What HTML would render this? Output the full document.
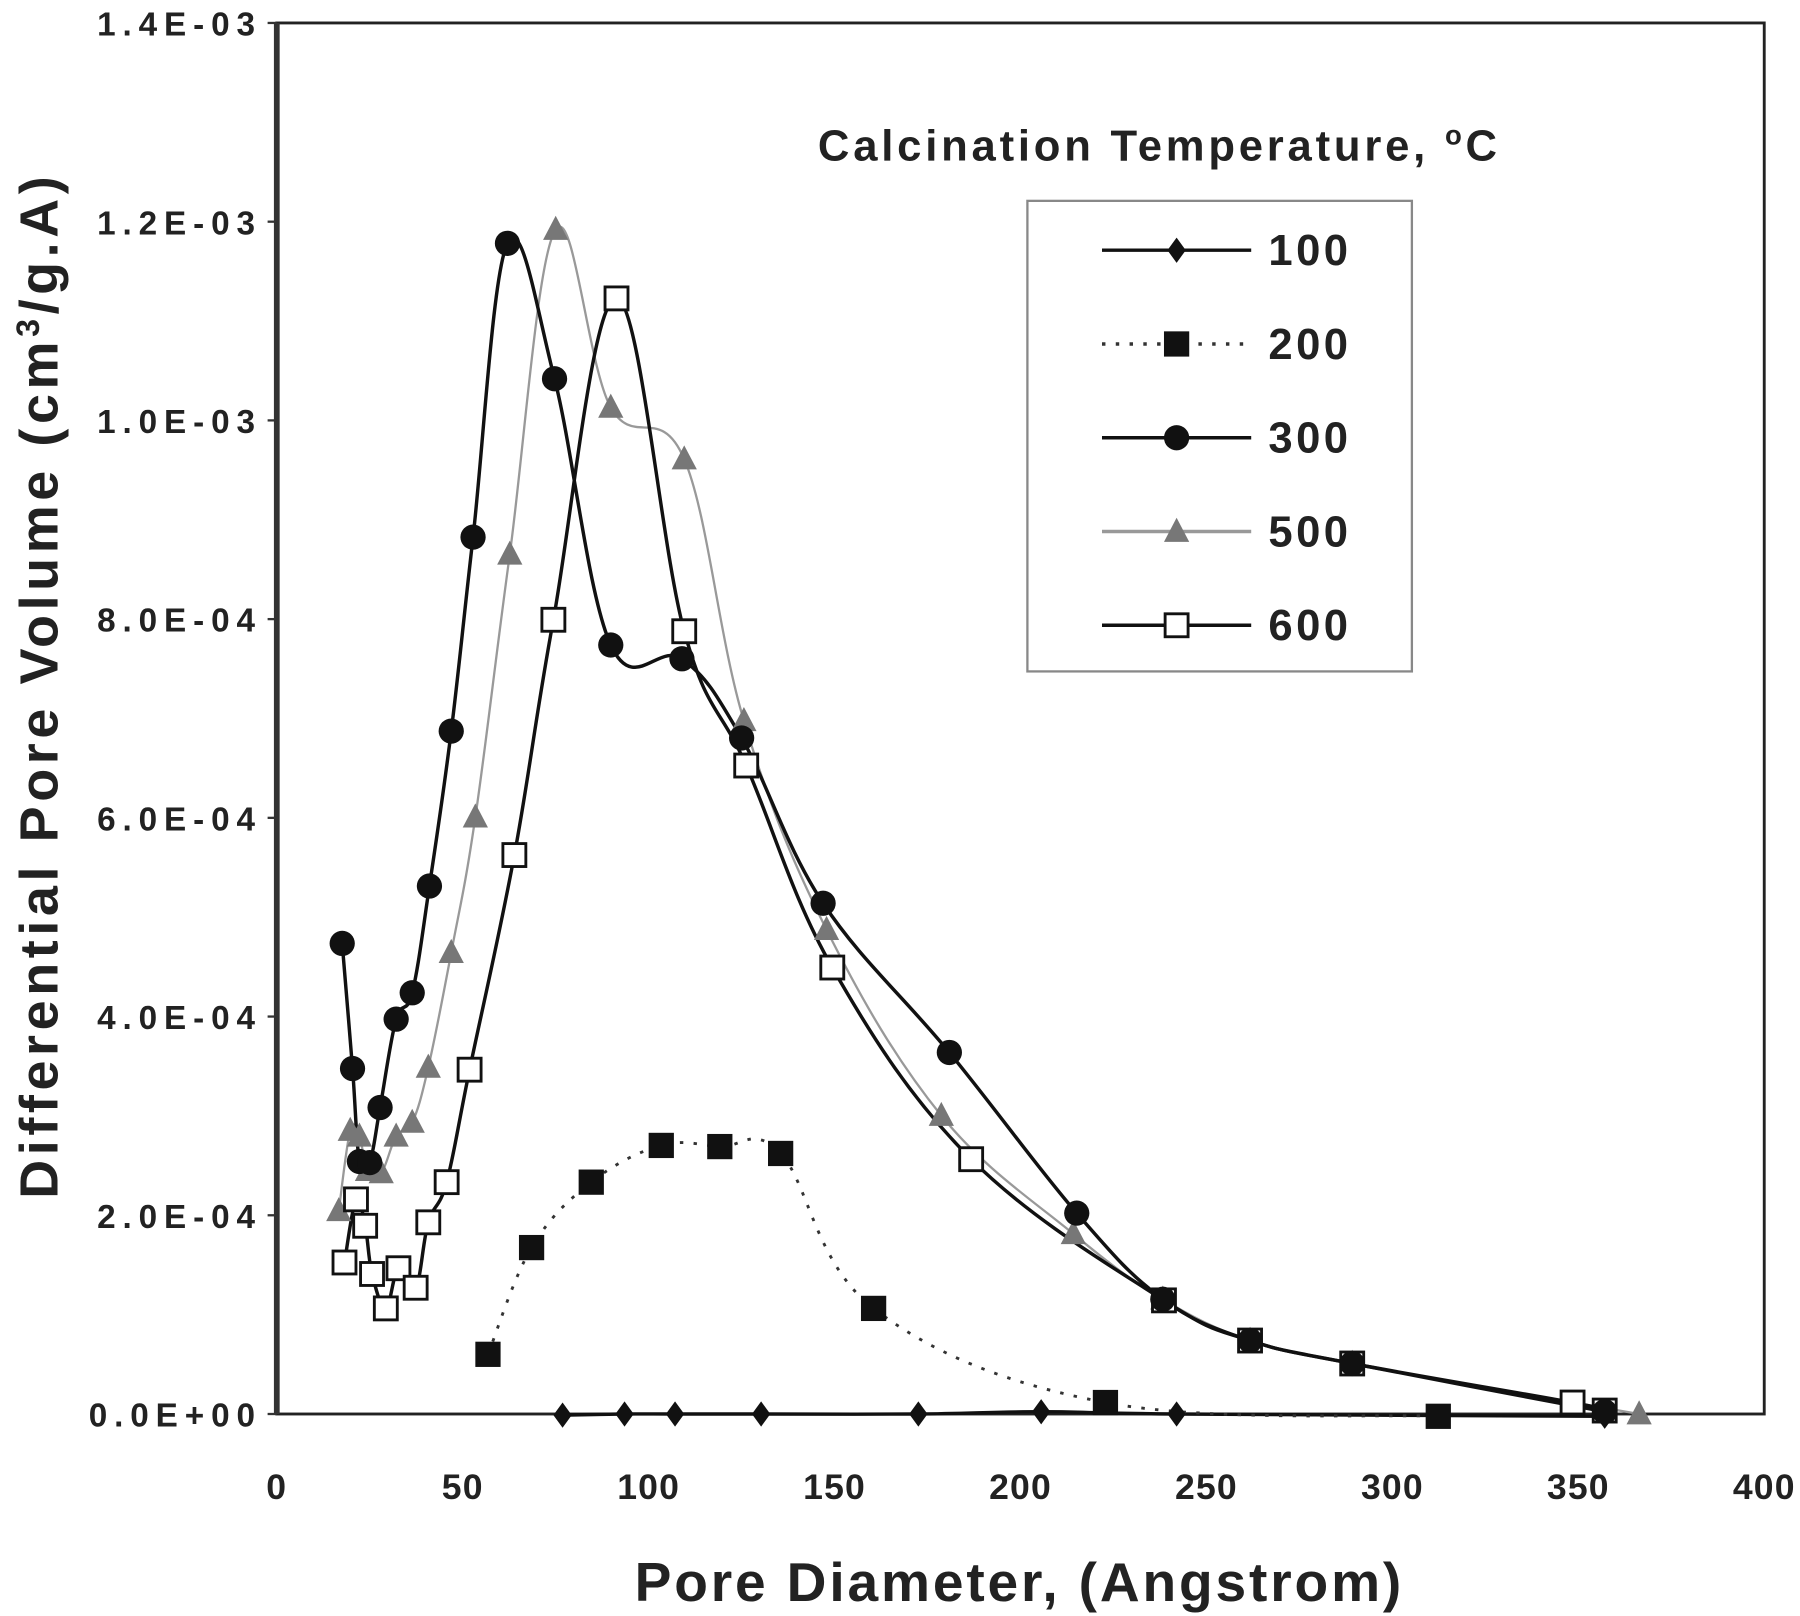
<!DOCTYPE html>
<html><head><meta charset="utf-8"><style>
html,body{margin:0;padding:0;background:#fff;}
svg{display:block;}
text{font-family:"Liberation Sans",Arial,sans-serif;font-weight:bold;fill:#222;}
</style></head><body>
<svg id="s" width="1800" height="1616" viewBox="0 0 1568 1408" xmlns="http://www.w3.org/2000/svg">
<rect x="0" y="0" width="1568" height="1408" fill="#fff"/>
<rect x="241" y="20" width="1296" height="1212" fill="none" stroke="#222" stroke-width="2.5"/>
<line x1="241" y1="20" x2="241" y2="1232" stroke="#333" stroke-width="5"/>
<g id="yt" font-size="29" text-anchor="end" letter-spacing="6"></g>
<g id="xt" font-size="31" text-anchor="middle" letter-spacing="1"></g>
<text x="888" y="1395" font-size="48" text-anchor="middle" letter-spacing="2.5">Pore Diameter, (Angstrom)</text>
<text transform="translate(50,597) rotate(-90)" font-size="47" text-anchor="middle" letter-spacing="4">Differential Pore Volume (cm<tspan dy="-16" font-size="28">3</tspan><tspan dy="16">/g.A)</tspan></text>
<text x="1010" y="140" font-size="38" text-anchor="middle" letter-spacing="3.3">Calcination Temperature, <tspan dy="-14" font-size="24">o</tspan><tspan dy="14">C</tspan></text>
<rect x="895" y="175" width="335" height="410" fill="#fff" stroke="#888" stroke-width="2"/>
<g id="plot"></g>
<g id="leg" font-size="38" letter-spacing="3"></g>
</svg>
<script>
const NS="http://www.w3.org/2000/svg";
function el(t,a,p){const e=document.createElementNS(NS,t);for(const k in a)e.setAttribute(k,a[k]);(p||document.getElementById('plot')).appendChild(e);return e;}
const yl=["0.0E+00","2.0E-04","4.0E-04","6.0E-04","8.0E-04","1.0E-03","1.2E-03","1.4E-03"];
const yt=document.getElementById('yt'),xt=document.getElementById('xt');
yl.forEach((l,i)=>{const y=1232-i*1212/7;const t=el('text',{x:228,y:y+11},yt);t.textContent=l;el('line',{x1:233,y1:y,x2:241,y2:y,stroke:'#333','stroke-width':2},yt);});
for(let i=0;i<=8;i++){const x=241+i*162;const t=el('text',{x:x,y:1306},xt);t.textContent=String(i*50);}
function smooth(p){let d=`M${p[0][0]},${p[0][1]}`;for(let i=0;i<p.length-1;i++){const p0=p[i-1]||p[i],p1=p[i],p2=p[i+1],p3=p[i+2]||p2;const t=0.18;
d+=` C${p1[0]+(p2[0]-p0[0])*t},${p1[1]+(p2[1]-p0[1])*t} ${p2[0]-(p3[0]-p1[0])*t},${p2[1]-(p3[1]-p1[1])*t} ${p2[0]},${p2[1]}`;}return d;}
function marker(type,x,y,g){
 if(type=='d')el('path',{d:`M${x},${y-11}L${x+8},${y}L${x},${y+11}L${x-8},${y}Z`,fill:'#111'},g);
 if(type=='s')el('rect',{x:x-11,y:y-11,width:22,height:22,fill:'#111'},g);
 if(type=='c')el('circle',{cx:x,cy:y,r:11,fill:'#111'},g);
 if(type=='t')el('path',{d:`M${x},${y-12}L${x+11},${y+9}L${x-11},${y+9}Z`,fill:'#777'},g);
 if(type=='o')el('rect',{x:x-10,y:y-10,width:20,height:20,fill:'#fff',stroke:'#111','stroke-width':2.5},g);
}
const S=[
 {m:'d',c:'#111',w:3,dash:null,p:[[490,1233],[544,1232],[588,1232],[663,1232],[800,1232],[907,1230],[1025,1232],[1398,1234]]},
 {m:'s',c:'#333',w:2.5,dash:'3,9',p:[[425,1180],[463,1087],[515,1030],[576,998],[627,999],[680,1005],[761,1140],[963,1222],[1253,1234]]},
 {m:'t',c:'#999',w:2,dash:null,p:[[295,1055],[305,985],[313,990],[320,1020],[332,1022],[345,990],[359,978],[373,930],[393,830],[414,712],[444,483],[484,200],[532,355],[596,400],[648,628],[720,810],[820,972],[935,1075],[1013,1132],[1089,1168],[1178,1188],[1428,1232]]},
 {m:'o',c:'#111',w:3,dash:null,p:[[300,1100],[310,1045],[318,1068],[324,1110],[336,1140],[347,1105],[362,1122],[373,1065],[389,1030],[409,932],[448,745],[482,540],[537,260],[596,550],[650,667],[725,843],[846,1010],[1014,1133],[1089,1168],[1178,1188],[1370,1222],[1398,1229]]},
 {m:'c',c:'#111',w:3,dash:null,p:[[298,822],[307,931],[313,1012],[322,1013],[331,965],[345,888],[359,865],[374,772],[393,637],[412,468],[442,212],[483,330],[532,562],[594,574],[646,643],[717,787],[827,917],[938,1057],[1013,1132],[1089,1168],[1178,1188],[1398,1230]]}
];
const plot=document.getElementById('plot');
S.forEach(s=>{const a={d:smooth(s.p),fill:'none',stroke:s.c,'stroke-width':s.w};if(s.dash)a['stroke-dasharray']=s.dash;el('path',a,plot);});
S.forEach(s=>s.p.forEach(q=>marker(s.m,q[0],q[1],plot)));
const leg=document.getElementById('leg');
const L=[['d','100','#111',null],['s','200','#333','3,9'],['c','300','#111',null],['t','500','#999',null],['o','600','#111',null]];
L.forEach((l,i)=>{const y=218+i*81.7;const a={x1:960,y1:y,x2:1090,y2:y,stroke:l[2],'stroke-width':3};if(l[3])a['stroke-dasharray']=l[3];el('line',a,leg);marker(l[0],1025,y,leg);const t=el('text',{x:1105,y:y+13},leg);t.textContent=l[1];});
</script>
</body></html>
